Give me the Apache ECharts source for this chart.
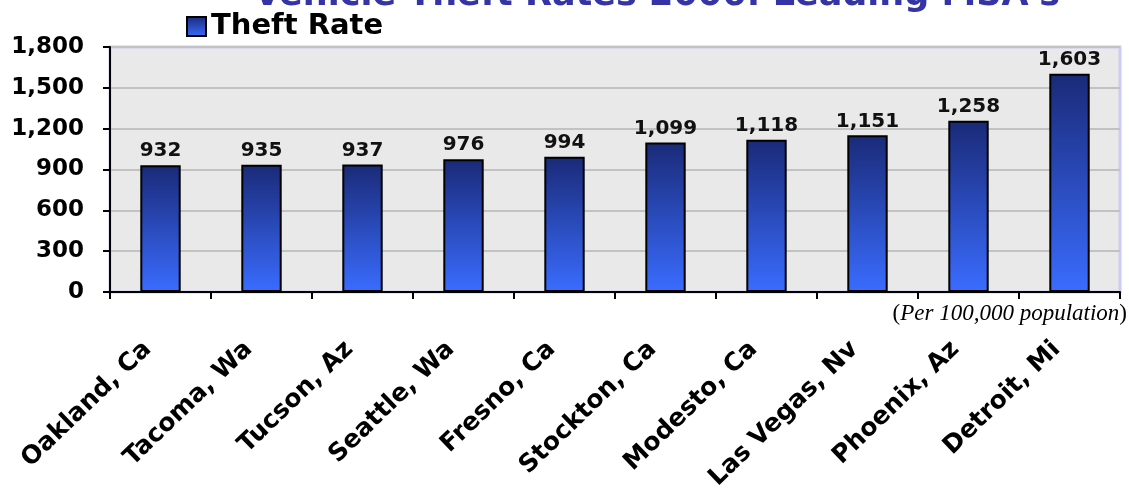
<!DOCTYPE html>
<html><head><meta charset="utf-8">
<script src="https://cdn.jsdelivr.net/npm/echarts@6/dist/echarts.min.js"></script>
<style>html,body{margin:0;padding:0;background:#fff}#c{width:1129px;height:489px}</style>
</head><body><div id="c"></div>
<script>
const titleText = "Vehicle Theft Rates 2006: Leading MSA's";
const seriesName = "Theft Rate";
const categories = ["Oakland, Ca","Tacoma, Wa","Tucson, Az","Seattle, Wa","Fresno, Ca","Stockton, Ca","Modesto, Ca","Las Vegas, Nv","Phoenix, Az","Detroit, Mi"];
const theftRate = [932,935,937,976,994,1099,1118,1151,1258,1603];
const yTicks = {min:0, max:1800, interval:300};

const FONT = 'DejaVu Sans, Liberation Sans, Arial';
const chart = echarts.init(document.getElementById('c'));
const grad = new echarts.graphic.LinearGradient(0,0,0,1,[{offset:0,color:'#1a2a78'},{offset:1,color:'#3a6cff'}]);
chart.setOption({
  animation:false,
  title:{text:titleText,left:657,textAlign:'center',top:-22,padding:0,textStyle:{fontFamily:FONT,fontSize:35,fontWeight:'bold',color:'#3434a6'}},
  legend:{left:186,top:12,padding:0,itemWidth:19,itemHeight:19,icon:'rect',itemGap:5,
    textStyle:{fontFamily:FONT,fontSize:29,fontWeight:'bold',color:'#000'},
    data:[{name:seriesName,itemStyle:{color:grad,borderColor:'#000',borderWidth:2}}]},
  grid:{left:110,right:9,top:47,bottom:197,outerBoundsMode:'none',containLabel:false,show:true,backgroundColor:'#e9e9e9',borderWidth:3,borderColor:'#ccccf6'},
  xAxis:{type:'category',data:categories,
    axisLine:{lineStyle:{color:'#000',width:2}},
    axisTick:{show:true,length:7,lineStyle:{color:'#000',width:2}},
    axisLabel:{rotate:44,interval:0,margin:41,padding:[0,18,0,0],fontFamily:FONT,fontSize:25,fontWeight:'bold',color:'#000'}},
  yAxis:{type:'value',min:yTicks.min,max:yTicks.max,interval:yTicks.interval,
    axisLine:{show:true,lineStyle:{color:'#000',width:2}},
    axisTick:{show:true,length:7,lineStyle:{color:'#000',width:2}},
    axisLabel:{margin:26,fontFamily:FONT,fontSize:23,fontWeight:'bold',color:'#000',
      formatter:v=>v.toLocaleString('en-US')},
    splitLine:{show:true,lineStyle:{color:'#c2c2c2',width:2}}},
  series:[{name:seriesName,type:'bar',data:theftRate,barWidth:'40%',
    itemStyle:{color:grad,borderColor:'#000',borderWidth:2},
    label:{show:true,position:'top',distance:4,fontFamily:FONT,fontSize:20,fontWeight:'bold',color:'#111',
      formatter:p=>p.value.toLocaleString('en-US')}}],
  graphic:[{type:'text',right:2,top:302,style:{text:'({i|Per 100,000 population})',
    rich:{i:{fontStyle:'italic',fontFamily:'Liberation Serif, Times New Roman',fontSize:23,fill:'#000'}},
    fontFamily:'Liberation Serif, Times New Roman',fontSize:23,fill:'#000'}}]
});
</script></body></html>
